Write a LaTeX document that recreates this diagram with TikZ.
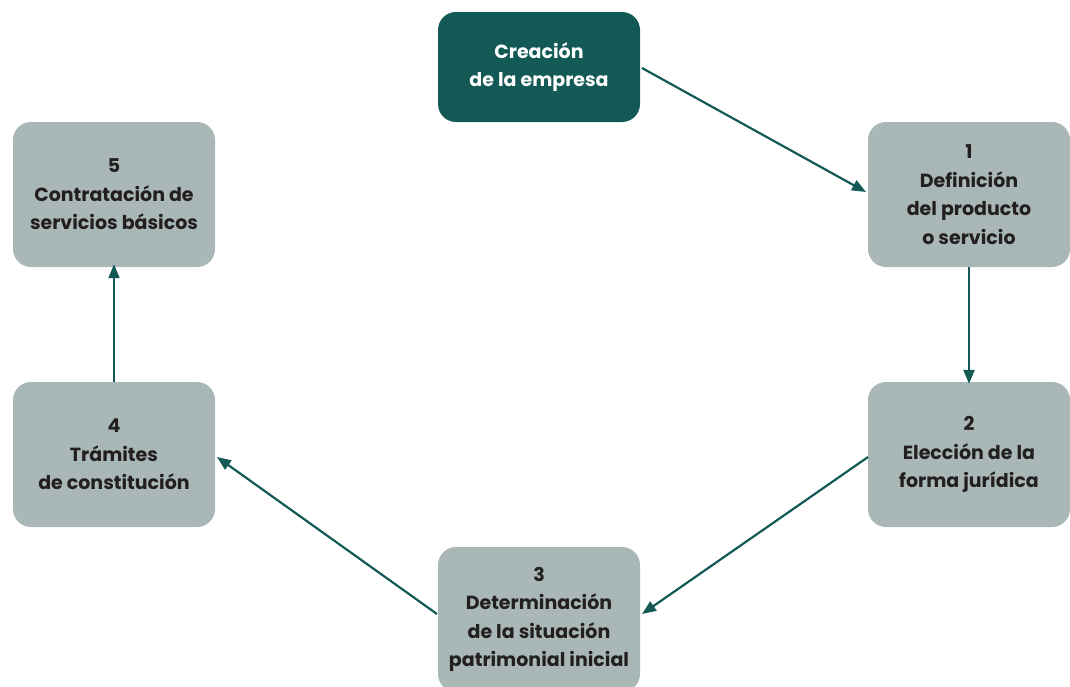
\documentclass[tikz,border=0pt]{standalone}
\usepackage{fontspec}
\setmainfont{Poppins}
\usetikzlibrary{arrows.meta}
\definecolor{darkteal}{HTML}{135955}
\definecolor{boxgray}{HTML}{A9B7B6}
\definecolor{textdark}{HTML}{231F20}
\tikzset{
  stepbox/.style={fill=boxgray, rounded corners=18pt, minimum width=202pt, minimum height=145pt,
    align=center, text=textdark, font=\fontsize{19}{28.5}\selectfont\bfseries, inner sep=0pt},
  headbox/.style={fill=darkteal, rounded corners=18pt, minimum width=202pt, minimum height=110pt,
    align=center, text=white, font=\fontsize{19}{28.5}\selectfont\bfseries, inner sep=0pt},
  conn/.style={draw=darkteal, line width=2.2pt, -{Triangle[length=14pt,width=11pt]}}
}
\begin{document}
\begin{tikzpicture}[x=1pt,y=-1pt]
\useasboundingbox (0,0) rectangle (1070,686);
\clip (0,0) rectangle (1070,686);
\node[headbox] (top) at (539,67) {Creación\\de la empresa};
\node[stepbox] (s1) at (969,194.5) {1\\Definición\\del producto\\o servicio};
\node[stepbox] (s2) at (969,454.5) {2\\Elección de la\\forma jurídica};
\node[stepbox] (s3) at (539,619.5) {3\\Determinación\\de la situación\\patrimonial inicial};
\node[stepbox] (s4) at (114,454.5) {4\\Trámites\\de constitución};
\node[stepbox] (s5) at (114,194.5) {5\\Contratación de\\servicios básicos};
\coordinate (a0) at (642,68);
\coordinate (a1) at (866,192);
\draw[conn] (a0) -- (a1);
\draw[conn] (s1.south) -- ([yshift=-2pt]s2.north);
\coordinate (b0) at (868,457);
\coordinate (b1) at (642,614);
\draw[conn] (b0) -- (b1);
\coordinate (c0) at (437,614);
\coordinate (c1) at (217,457);
\draw[conn] (c0) -- (c1);
\draw[conn] (s4.north) -- ([yshift=3pt]s5.south);
\end{tikzpicture}
\end{document}
